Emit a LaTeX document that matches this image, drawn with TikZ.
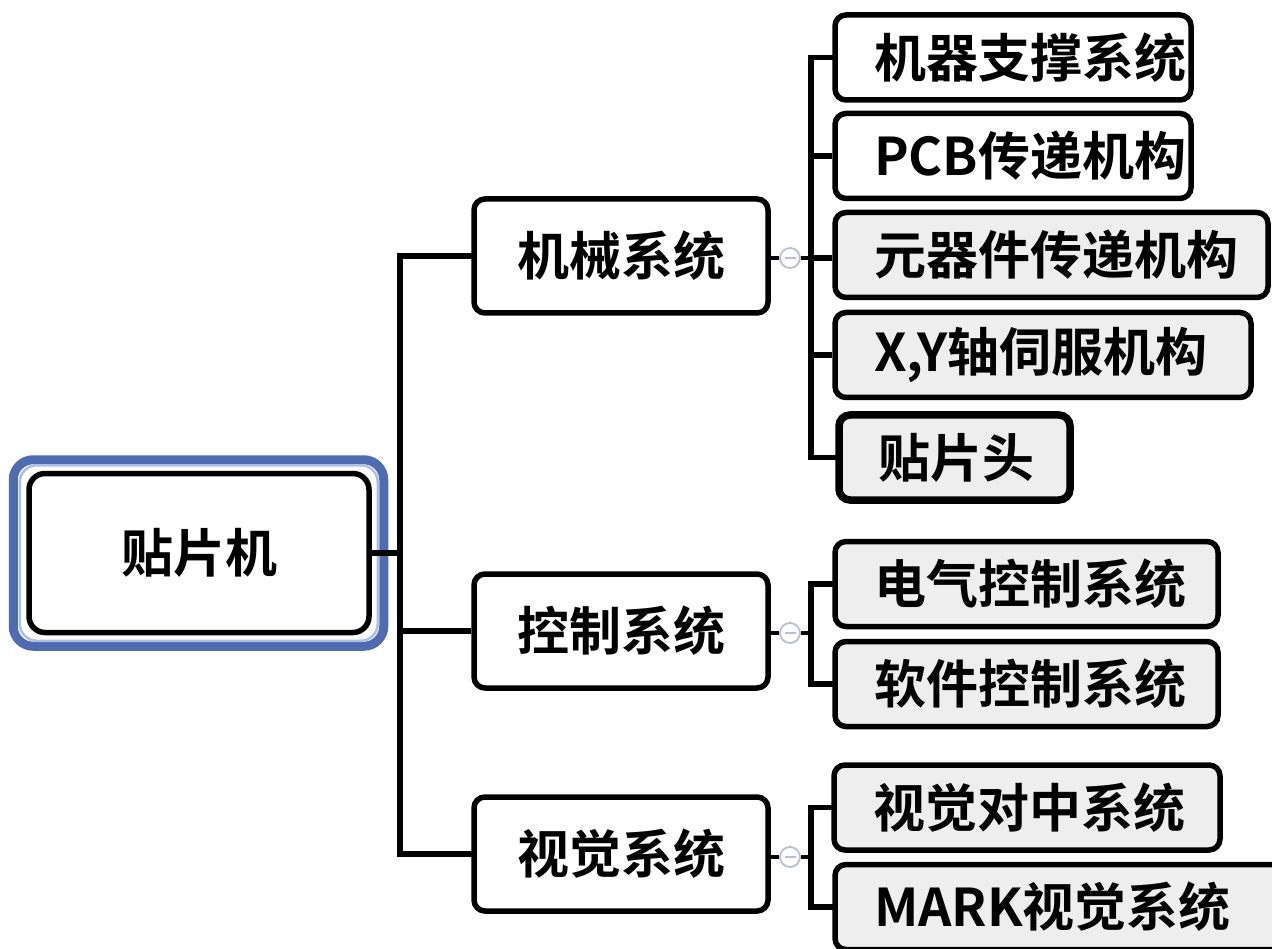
\documentclass[tikz,border=0pt]{standalone}
\usepackage{fontspec}
\setmainfont{Noto Sans CJK SC}[BoldFont={* Bold}]
\newfontfamily\cjk{Noto Sans CJK SC Bold}
\definecolor{rootblue}{RGB}{79,107,178}
\definecolor{lightblue}{RGB}{175,190,228}
\definecolor{leafgray}{RGB}{238,238,238}
\definecolor{circgray}{RGB}{185,190,215}
\tikzset{
  box/.style={draw=black, line width=5.5pt, rounded corners=11pt, fill=white,
    font=\cjk\fontsize{52}{54}\selectfont, inner sep=0pt, align=center},
  lvone/.style={box, minimum width=294pt, minimum height=114pt},
  leaf/.style={box, minimum height=85pt, inner xsep=39pt, align=left},
  grayleaf/.style={leaf, fill=leafgray},
  conn/.style={draw=black, line width=5.5pt},
  collapse/.style={circle, draw=circgray, line width=1.8pt, fill=white,
    minimum size=20pt, inner sep=0pt,
    path picture={\draw[circgray, line width=1.8pt]
      ([xshift=-5.5pt]path picture bounding box.center) --
      ([xshift=5.5pt]path picture bounding box.center);}},
}
\begin{document}
\begin{tikzpicture}[x=1pt, y=-1pt]
\useasboundingbox[fill=white] (0,0) rectangle (1272,949);

% root
\node[box, rounded corners=16pt, minimum width=340pt, minimum height=159pt] (root) at (199,553) {贴片机};
\draw[rootblue, line width=9pt, rounded corners=20pt]
  ([shift={(-13,-11)}]root.north west) rectangle ([shift={(12,11)}]root.south east);
\draw[lightblue, line width=2.5pt, rounded corners=17pt]
  ([shift={(-6.5,-5.5)}]root.north west) rectangle ([shift={(6,5.5)}]root.south east);

% level one
\node[lvone] (mech) at (621,256) {机械系统};
\node[lvone] (ctrl) at (621,631) {控制系统};
\node[lvone] (vis)  at (621,854) {视觉系统};

% trunk
\coordinate (t) at (400,553);
\draw[conn] (root.east) -- (t);
\draw[conn, line cap=rect] (t) |- (mech.west);
\draw[conn, line cap=rect] (t) |- (vis.west);
\draw[conn] (t) |- (ctrl.west);

% collapse markers
\node[collapse] (c1) at (790,258) {};
\node[collapse] (c2) at (790,633) {};
\node[collapse] (c3) at (790,857) {};
\draw[conn, line width=3.5pt] (mech.east |- c1) -- (c1.west);
\draw[conn, line width=3.5pt] (ctrl.east |- c2) -- (c2.west);
\draw[conn, line width=3.5pt] (vis.east |- c3) -- (c3.west);
\coordinate (s1) at (811,258);
\coordinate (s2) at (811,633);
\coordinate (s3) at (811,857);
\draw[conn, line width=3.5pt] (c1.east) -- (s1);
\draw[conn, line width=3.5pt] (c2.east) -- (s2);
\draw[conn, line width=3.5pt] (c3.east) -- (s3);

% leaves
\node[leaf, minimum width=356pt, text width=278pt] (l1) at (1013,57.5) {机器支撑系统};
\node[leaf, minimum width=356pt, text width=278pt] (l2) at (1013,156) {PCB传递机构};
\node[grayleaf, minimum width=433pt, text width=355pt] (l3) at (1051.5,255) {元器件传递机构};
\node[grayleaf, minimum width=416pt, text width=338pt] (l4) at (1043,355) {X,Y轴伺服机构};
\node[grayleaf, line width=7.5pt, minimum width=231pt, text width=153pt] (l5) at (954.5,457.5) {贴片头};
\node[grayleaf, minimum width=383pt, text width=305pt] (l6) at (1026.5,584) {电气控制系统};
\node[grayleaf, minimum width=383pt, text width=305pt] (l7) at (1026.5,684) {软件控制系统};
\node[grayleaf, minimum width=386pt, text width=308pt] (l8) at (1027,807.5) {视觉对中系统};
\node[grayleaf, minimum width=450pt, text width=372pt] (l9) at (1060,907) {MARK视觉系统};

% sub-trunks
\draw[conn, line cap=rect] (s1) |- (l1.west);
\draw[conn] (s1) |- (l2.west);
\draw[conn] (s1) -- (l3.west |- s1);
\draw[conn] (s1) |- (l4.west);
\draw[conn, line cap=rect] (s1) |- (l5.west);
\draw[conn, line cap=rect] (s2) |- (l6.west);
\draw[conn, line cap=rect] (s2) |- (l7.west);
\draw[conn, line cap=rect] (s3) |- (l8.west);
\draw[conn, line cap=rect] (s3) |- (l9.west);
\end{tikzpicture}
\end{document}
